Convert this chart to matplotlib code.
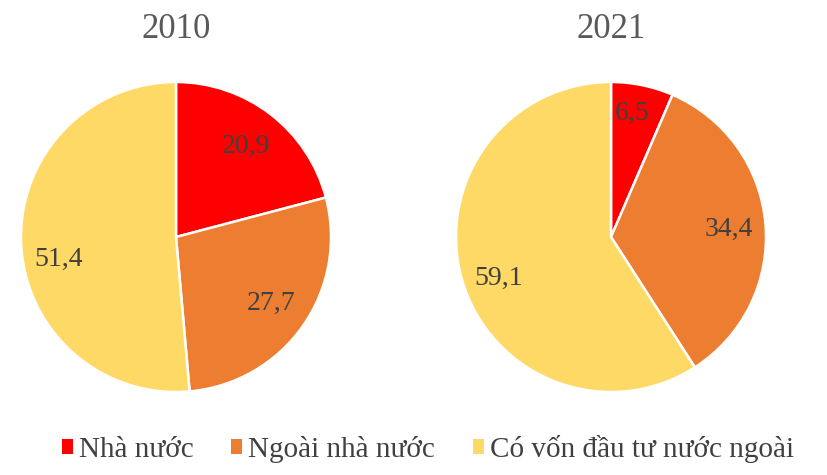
import matplotlib
matplotlib.use("Agg")
import numpy as np
import matplotlib.pyplot as plt
from matplotlib.patches import Patch

plt.rcParams['font.family'] = ['Liberation Serif', 'DejaVu Serif']

# data
years = ['2010', '2021']
categories = ['Nhà nước', 'Ngoài nhà nước', 'Có vốn đầu tư nước ngoài']
values_2010 = [20.9, 27.7, 51.4]
values_2021 = [6.5, 34.4, 59.1]
colors = ['#FF0000', '#ED7D31', '#FFD966']

W, H = 828, 475
fig = plt.figure(figsize=(W / 100, H / 100), dpi=100)

# pie centres (px) and radius
centres = [(176, 237), (611, 237)]
R = 155
series = [values_2010, values_2021]
# label placement (fraction of radius, angle nudge in degrees)
label_r = [[0.74, 0.75, 0.77], [0.81, 0.76, 0.77]]
label_da = [[0, 0, 8.5], [2, -1, 4]]

for (cx, cy), year, vals, lr, da in zip(centres, years, series, label_r, label_da):
    ax = fig.add_axes([(cx - R) / W, 1 - (cy + R) / H, 2 * R / W, 2 * R / H])
    wedges, _ = ax.pie(vals, colors=colors, startangle=90, counterclock=False,
                       radius=1.0,
                       wedgeprops=dict(edgecolor='white', linewidth=1.8))
    for w, v, r, d in zip(wedges, vals, lr, da):
        ang = np.deg2rad((w.theta1 + w.theta2) / 2 + d)
        ax.text(r * np.cos(ang), r * np.sin(ang), ('%.1f' % v).replace('.', ','),
                ha='center', va='center', fontsize=20, color='#404040')
    ax.set_xlim(-1, 1)
    ax.set_ylim(-1, 1)
    ax.set_aspect('equal')
    ax.axis('off')
    fig.text(cx / W, 1 - 30 / H, year, ha='center', va='center',
             fontsize=25, color='#595959')

handles = [Patch(facecolor=c, edgecolor='none') for c in colors]
fig.legend(handles, categories, loc='center', bbox_to_anchor=(428 / W, 1 - 449 / H),
           ncol=3, frameon=False, fontsize=21, handlelength=0.38,
           handleheight=0.38, handletextpad=0.2, columnspacing=1.3,
           labelcolor='#404040', borderpad=0, borderaxespad=0)

fig.savefig('out.png', dpi=100)
